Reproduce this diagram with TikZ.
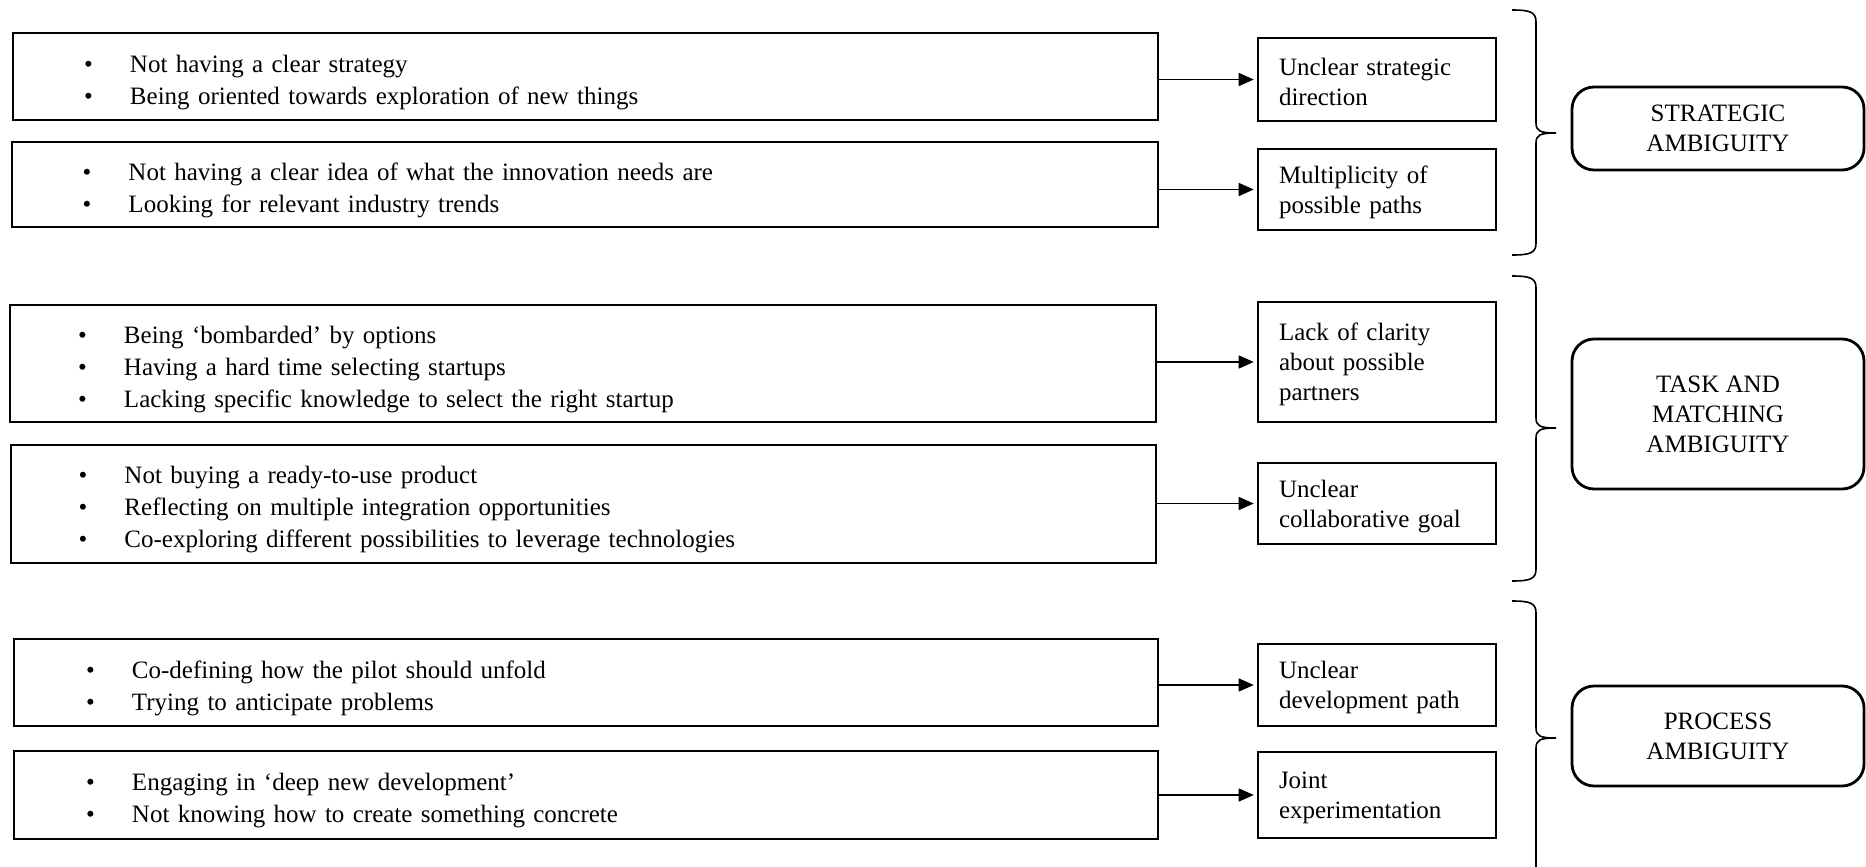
\documentclass[tikz,border=0pt]{standalone}
\usepackage{fontspec}
\setmainfont{Liberation Serif}
\usetikzlibrary{arrows.meta}

\newcommand{\bitem}{\makebox[46pt][l]{\textbullet}}

\tikzset{
  causebox/.style={draw, line width=2.6pt, rectangle, inner xsep=0pt, inner ysep=0pt,
    align=left, font=\fontsize{25}{32}\selectfont,
    execute at begin node={\rule{0pt}{29pt}}},
  effectbox/.style={draw, line width=2.6pt, rectangle, inner xsep=0pt, inner ysep=0pt,
    minimum width=238pt, text width=196pt, align=left, font=\fontsize{25}{30}\selectfont,
    execute at begin node={\rule{0pt}{23pt}}},
  ambbox/.style={draw, line width=2.8pt, rectangle, rounded corners=22pt, inner sep=0pt,
    minimum width=292pt, align=center, font=\fontsize{25}{30}\selectfont},
  link/.style={line width=1.5pt, -{Triangle[length=15pt,width=13pt]}, shorten >=3pt},
  bracepath/.style={line width=1.6pt},
}

\begin{document}
\begin{tikzpicture}[x=1pt,y=-1pt]
\path[use as bounding box, clip] (0,0) rectangle (1866,867);

% left column: observations
\node[causebox, minimum width=1145pt, minimum height=87pt, text width=1003pt] (c1) at (585.5,76.5)
  {\bitem Not having a clear strategy\\ \bitem Being oriented towards exploration of new things};
\node[causebox, minimum width=1146pt, minimum height=85pt, text width=1005pt] (c2) at (585,184.5)
  {\bitem Not having a clear idea of what the innovation needs are\\ \bitem Looking for relevant industry trends};
\node[causebox, minimum width=1146pt, minimum height=117pt, text width=1010pt] (c3) at (583,363.5)
  {\bitem Being `bombarded' by options\\ \bitem Having a hard time selecting startups\\ \bitem Lacking specific knowledge to select the right startup};
\node[causebox, minimum width=1145pt, minimum height=118pt, text width=1010pt] (c4) at (583.5,504)
  {\bitem Not buying a ready-to-use product\\ \bitem Reflecting on multiple integration opportunities\\ \bitem Co-exploring different possibilities to leverage technologies};
\node[causebox, minimum width=1144pt, minimum height=87pt, text width=1000pt] (c5) at (586,682.5)
  {\bitem Co-defining how the pilot should unfold\\ \bitem Trying to anticipate problems};
\node[causebox, minimum width=1144pt, minimum height=88pt, text width=1000pt] (c6) at (586,795)
  {\bitem Engaging in `deep new development'\\ \bitem Not knowing how to create something concrete};

% middle column: ambiguity sources
\node[effectbox, minimum height=83pt] (e1) at (1377,79.5) {Unclear strategic\\direction};
\node[effectbox, minimum height=81pt] (e2) at (1377,189.5) {Multiplicity of\\possible paths};
\node[effectbox, minimum height=120pt] (e3) at (1377,362) {Lack of clarity\\about possible\\partners};
\node[effectbox, minimum height=81pt] (e4) at (1377,503.5) {Unclear\\collaborative goal};
\node[effectbox, minimum height=82pt] (e5) at (1377,685) {Unclear\\development path};
\node[effectbox, minimum height=86pt] (e6) at (1377,795) {Joint\\experimentation};

% right column: ambiguity types
\node[ambbox, minimum height=83pt] (a1) at (1718,128.5) {STRATEGIC\\AMBIGUITY};
\node[ambbox, minimum height=150pt] (a2) at (1718,414) {TASK AND\\MATCHING\\AMBIGUITY};
\node[ambbox, minimum height=100pt] (a3) at (1718,736) {PROCESS\\AMBIGUITY};

% connectors
\foreach \i in {1,...,6}{
  \draw[link] (c\i.east |- e\i.west) -- (e\i.west);
}

% grouping braces
\draw[bracepath] (1512,10) .. controls (1530,10) and (1536,12) .. (1536,22)
  -- (1536,123) .. controls (1536,131) and (1540,133) .. (1556,133)
  .. controls (1540,133) and (1536,135) .. (1536,143)
  -- (1536,243) .. controls (1536,253) and (1530,255) .. (1512,255);
\draw[bracepath] (1512,276) .. controls (1530,276) and (1536,278) .. (1536,288)
  -- (1536,418) .. controls (1536,426) and (1540,428) .. (1556,428)
  .. controls (1540,428) and (1536,430) .. (1536,438)
  -- (1536,569) .. controls (1536,579) and (1530,581) .. (1512,581);
\draw[bracepath] (1512,601) .. controls (1530,601) and (1536,603) .. (1536,613)
  -- (1536,728) .. controls (1536,736) and (1540,738) .. (1556,738)
  .. controls (1540,738) and (1536,740) .. (1536,748)
  -- (1536,880);
\end{tikzpicture}
\end{document}
